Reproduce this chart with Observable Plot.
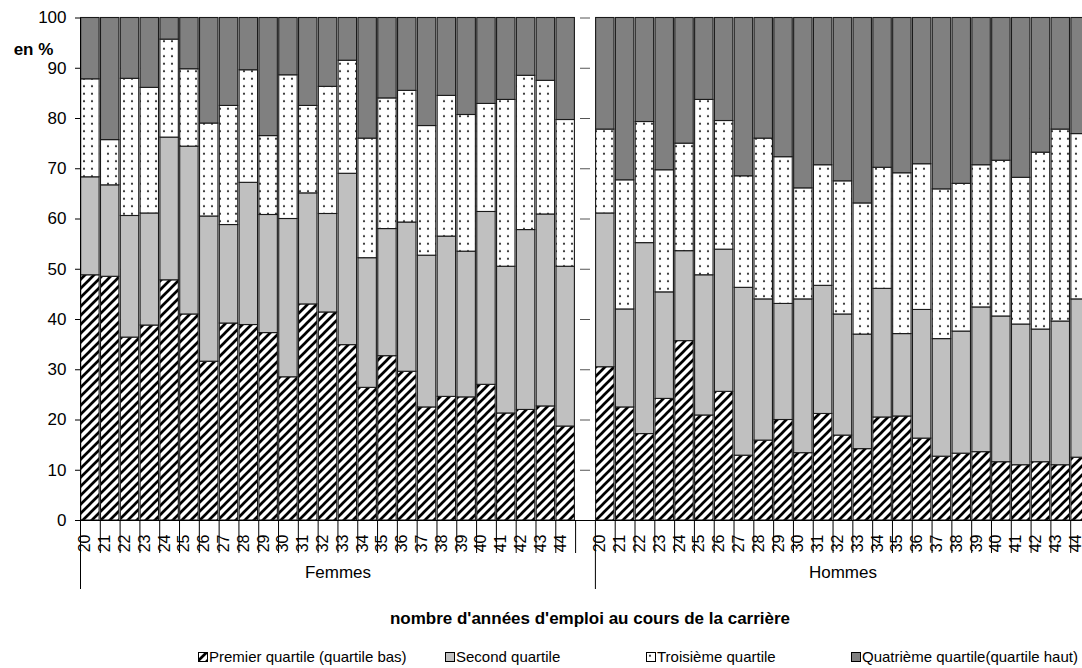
<!DOCTYPE html>
<html lang="fr">
<head>
<meta charset="utf-8">
<script src="https://cdn.jsdelivr.net/npm/d3@7"></script>
<script src="https://cdn.jsdelivr.net/npm/@observablehq/plot@0.6"></script>
<style>
  body { margin: 0; background: white; overflow: hidden; }
  #page { position: relative; width: 1082px; height: 668px; overflow: hidden;
          font-family: "Liberation Sans", Arial, sans-serif; color: black; }
  #chart { position: absolute; left: 0; top: 0; width: 1100px; }
  #titre-x { position: absolute; top: 609px; left: 590px; transform: translateX(-50%);
             font-size: 17px; line-height: 20px; font-weight: bold; white-space: nowrap; }
  .leg { position: absolute; top: 648px; font-size: 15px; line-height: 18px; white-space: nowrap;
         display: flex; align-items: center; gap: 1px; }
  .leg svg { display: block; }
</style>
</head>
<body>
<svg width="0" height="0" style="position:absolute">
  <defs>
    <pattern id="hachures" patternUnits="userSpaceOnUse" width="9" height="9">
      <rect width="9" height="9" fill="white"/>
      <path d="M-2,2L2,-2M0,9L9,0M7,11L11,7" stroke="black" stroke-width="2.7"/>
    </pattern>
    <pattern id="points" patternUnits="userSpaceOnUse" width="8" height="7.5">
      <rect width="8" height="7.5" fill="white"/>
      <circle cx="4" cy="3.7" r="1.1" fill="#333"/>
    </pattern>
  </defs>
</svg>
<div id="page">
  <div id="chart"></div>
  <div id="titre-x">nombre d'années d'emploi au cours de la carrière</div>
  <div id="legende"></div>
</div>
<script>
const annees = [20, 21, 22, 23, 24, 25, 26, 27, 28, 29, 30, 31, 32, 33, 34, 35, 36, 37, 38, 39, 40, 41, 42, 43, 44];
const sexes = ["Femmes", "Hommes"];
const quartiles = ["Premier quartile (quartile bas)", "Second quartile", "Troisième quartile", "Quatrième quartile(quartile haut)"];

// parts en % par quartile
const femmesQ1 = [48.8, 48.5, 36.4, 38.8, 47.8, 41.0, 31.6, 39.2, 38.9, 37.3, 28.5, 43.0, 41.4, 34.9, 26.4, 32.7, 29.6, 22.5, 24.6, 24.5, 27.0, 21.3, 22.0, 22.7, 18.7];
const femmesQ2 = [19.5, 18.2, 24.2, 22.3, 28.4, 33.4, 28.9, 19.6, 28.3, 23.5, 31.5, 22.1, 19.6, 34.1, 25.8, 25.3, 29.7, 30.2, 31.9, 29.0, 34.4, 29.2, 35.8, 38.2, 31.8];
const femmesQ3 = [19.5, 9.0, 27.3, 25.0, 19.5, 15.4, 18.5, 23.7, 22.4, 15.7, 28.6, 17.4, 25.3, 22.5, 23.8, 26.0, 26.2, 25.8, 28.0, 27.2, 21.5, 33.2, 30.7, 26.6, 29.2];
const femmesQ4 = [12.2, 24.3, 12.1, 13.9, 4.3, 10.2, 21.0, 17.5, 10.4, 23.5, 11.4, 17.5, 13.7, 8.5, 24.0, 16.0, 14.5, 21.5, 15.5, 19.3, 17.1, 16.3, 11.5, 12.5, 20.3];

const hommesQ1 = [30.5, 22.5, 17.2, 24.2, 35.7, 20.9, 25.6, 12.9, 15.9, 20.0, 13.4, 21.2, 16.9, 14.2, 20.5, 20.7, 16.3, 12.7, 13.3, 13.6, 11.6, 11.0, 11.6, 11.0, 12.5];
const hommesQ2 = [30.6, 19.5, 38.0, 21.2, 17.9, 27.9, 28.3, 33.4, 28.1, 23.1, 30.6, 25.5, 24.1, 22.8, 25.6, 16.4, 25.6, 23.4, 24.3, 28.8, 29.0, 28.0, 26.4, 28.6, 31.5];
const hommesQ3 = [16.7, 25.7, 24.1, 24.3, 21.4, 34.9, 25.6, 22.2, 32.0, 29.2, 22.1, 24.0, 26.5, 26.1, 24.1, 32.0, 29.0, 29.8, 29.4, 28.3, 31.0, 29.2, 35.2, 38.2, 32.9];
const hommesQ4 = [22.2, 32.3, 20.7, 30.3, 25.0, 16.3, 20.5, 31.5, 24.0, 27.7, 33.9, 29.3, 32.5, 36.9, 29.8, 30.9, 29.1, 34.1, 33.0, 29.3, 28.4, 31.8, 26.8, 22.2, 23.1];

const series = {
  Femmes: [femmesQ1, femmesQ2, femmesQ3, femmesQ4],
  Hommes: [hommesQ1, hommesQ2, hommesQ3, hommesQ4]
};
const motifs = ["url(#hachures)", "#c0c0c0", "url(#points)", "#808080"];

// table longue pour Plot
const lignes = [];
for (const s of sexes) {
  annees.forEach((a, i) => {
    quartiles.forEach((q, k) => {
      lignes.push({cle: s + a, sexe: s, annee: a, quartile: q, valeur: series[s][k][i], motif: motifs[k]});
    });
  });
}
const femmesCles = annees.map(a => "Femmes" + a);
const hommesCles = annees.map(a => "Hommes" + a);
const cles = [...femmesCles, "vide", ...hommesCles];
const etiquettes = lignes.filter(d => d.quartile === quartiles[0]);

const largeur = 1100, hauteur = 600;
const margeGauche = 80, margeDroite = 10, margeHaut = 17.5, margeBas = 80;
const pas = (largeur - margeGauche - margeDroite) / cles.length;
const pxParPoint = (hauteur - margeHaut - margeBas) / 100;
const tickCourt = 33 / pxParPoint, tickLong = 69 / pxParPoint;

const chart = Plot.plot({
  width: largeur,
  height: hauteur,
  marginLeft: margeGauche,
  marginRight: margeDroite,
  marginTop: margeHaut,
  marginBottom: margeBas,
  style: {fontFamily: "'Liberation Sans', Arial, sans-serif", color: "black", overflow: "visible", maxWidth: "none"},
  x: {type: "band", domain: cles, paddingInner: 0.07, paddingOuter: 0.035, axis: null},
  y: {domain: [0, 100], axis: null},
  color: {type: "identity"},
  marks: [
    Plot.gridY({ticks: 10, stroke: "#555", strokeOpacity: 1, strokeDasharray: "10,10"}),
    Plot.barY(lignes, {x: "cle", y: "valeur", z: "quartile", order: quartiles, fill: "motif", stroke: "#1a1a1a", strokeWidth: 1.1}),
    Plot.ruleY([0], {stroke: "black"}),
    Plot.ruleX([cles[0]], {x: d => d, dx: -pas / 2, y1: -tickLong, y2: 100, stroke: "black"}),
    Plot.ruleX([hommesCles[0]], {x: d => d, dx: -pas / 2, y1: -tickLong, y2: 0, stroke: "black"}),
    Plot.ruleX(cles.filter(c => c !== cles[0] && c !== hommesCles[0]), {x: d => d, dx: -pas / 2, y1: -tickCourt, y2: 0, stroke: "black"}),
    Plot.text(etiquettes, {x: "cle", text: d => String(d.annee), frameAnchor: "bottom", rotate: -90, textAnchor: "end", dy: 14, fontSize: 16}),
    Plot.text(["Femmes"], {x: () => femmesCles[12], text: d => d, dx: pas / 2, frameAnchor: "bottom", dy: 57, fontSize: 17}),
    Plot.text(["Hommes"], {x: () => hommesCles[12], text: d => d, frameAnchor: "bottom", dy: 57, fontSize: 17}),
    Plot.axisY({ticks: 10, tickSize: 5, tickPadding: 9, fontSize: 17, label: null}),
    Plot.text(["en %"], {text: d => d, frameAnchor: "top-left", textAnchor: "middle", dx: -47, dy: 25, fontSize: 17, fontWeight: "bold"})
  ]
});
document.getElementById("chart").append(chart);

// légende
const posLegende = [198, 445, 646, 851];
const legende = d3.select("#legende");
quartiles.forEach((q, k) => {
  const item = legende.append("div").attr("class", "leg").style("left", posLegende[k] + "px");
  const svg = item.append("svg").attr("width", 10).attr("height", 10);
  svg.append("rect").attr("x", 0.5).attr("y", 0.5).attr("width", 9).attr("height", 9)
    .attr("fill", motifs[k]).attr("stroke", "black");
  item.append("span").text(q);
});
</script>
</body>
</html>
